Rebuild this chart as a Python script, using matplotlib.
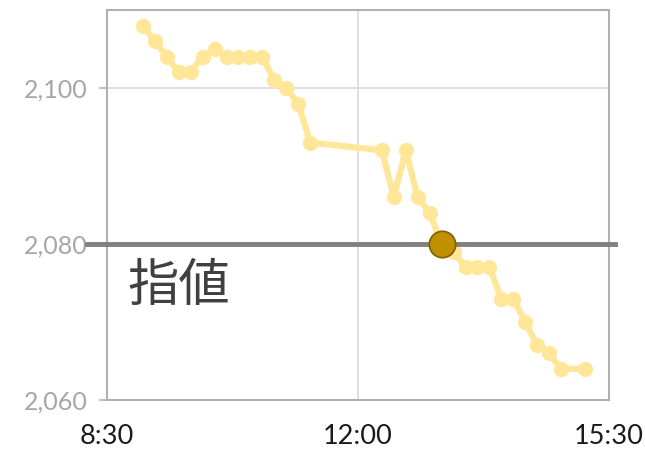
import matplotlib
matplotlib.use("Agg")
import matplotlib.pyplot as plt
import numpy as np

# price series (10-minute bars)
times = ["9:00", "9:10", "9:20", "9:30", "9:40", "9:50", "10:00", "10:10",
         "10:20", "10:30", "10:40", "10:50", "11:00", "11:10", "11:20",
         "12:20", "12:30", "12:40", "12:50", "13:00", "13:10", "13:20",
         "13:30", "13:40", "13:50", "14:00", "14:10", "14:20", "14:30",
         "14:40", "14:50", "15:10"]
prices = [2108, 2106, 2104, 2102, 2102, 2104, 2105, 2104, 2104, 2104, 2104,
          2101, 2100, 2098, 2093, 2092, 2086, 2092, 2086, 2084, 2080, 2079,
          2077, 2077, 2077, 2073, 2073, 2070, 2067, 2066, 2064, 2064]

limit_price = 2080
hit_time = "13:10"
limit_label = "指値"

xticks = ["8:30", "12:00", "15:30"]
yticks = [2060, 2080, 2100]


def to_hours(s):
    h, m = s.split(":")
    return int(h) + int(m) / 60


x = np.array([to_hours(t) for t in times])
y = np.array(prices)

plt.rcParams['font.family'] = ['Lato', 'Noto Sans CJK JP', 'DejaVu Sans']

fig = plt.figure(figsize=(6.45, 4.5), dpi=100)
ax = fig.add_axes([0.166, 0.111, 0.778, 0.867])

ax.plot(x, y, color="#FFE699", lw=4.5, marker="o", ms=10, zorder=3)

ax.axhline(limit_price, xmin=-0.04, xmax=1.012, color="#808080", lw=3.5,
           clip_on=False, zorder=4)
ax.plot([to_hours(hit_time)], [limit_price], marker="o", ms=19,
        color="#BF9000", mec="#7F6000", mew=1.2, zorder=5)

ax.text(to_hours("8:47"), 2074.6, limit_label, fontsize=37, color="#404040",
        family=['Noto Sans CJK JP'], va="center", ha="left")

ax.set_xlim(to_hours(xticks[0]), to_hours(xticks[-1]))
ax.set_ylim(2060, 2110)
ax.set_xticks([to_hours(t) for t in xticks])
ax.set_xticklabels(xticks)
ax.set_yticks(yticks)
ax.set_yticklabels([f"{v:,}" for v in yticks])

ax.grid(True, color="#D9D9D9", lw=1.2)
ax.set_axisbelow(True)
for sp in ax.spines.values():
    sp.set_color("#B0B0B0")
    sp.set_linewidth(1.5)

ax.tick_params(axis="y", colors="#B0B0B0", labelcolor="#A6A6A6",
               labelsize=18, length=6, width=1.2, pad=8)
ax.tick_params(axis="x", length=0, labelsize=19.5, labelcolor="#1A1A1A", pad=17)

fig.savefig("out.png", dpi=100)
